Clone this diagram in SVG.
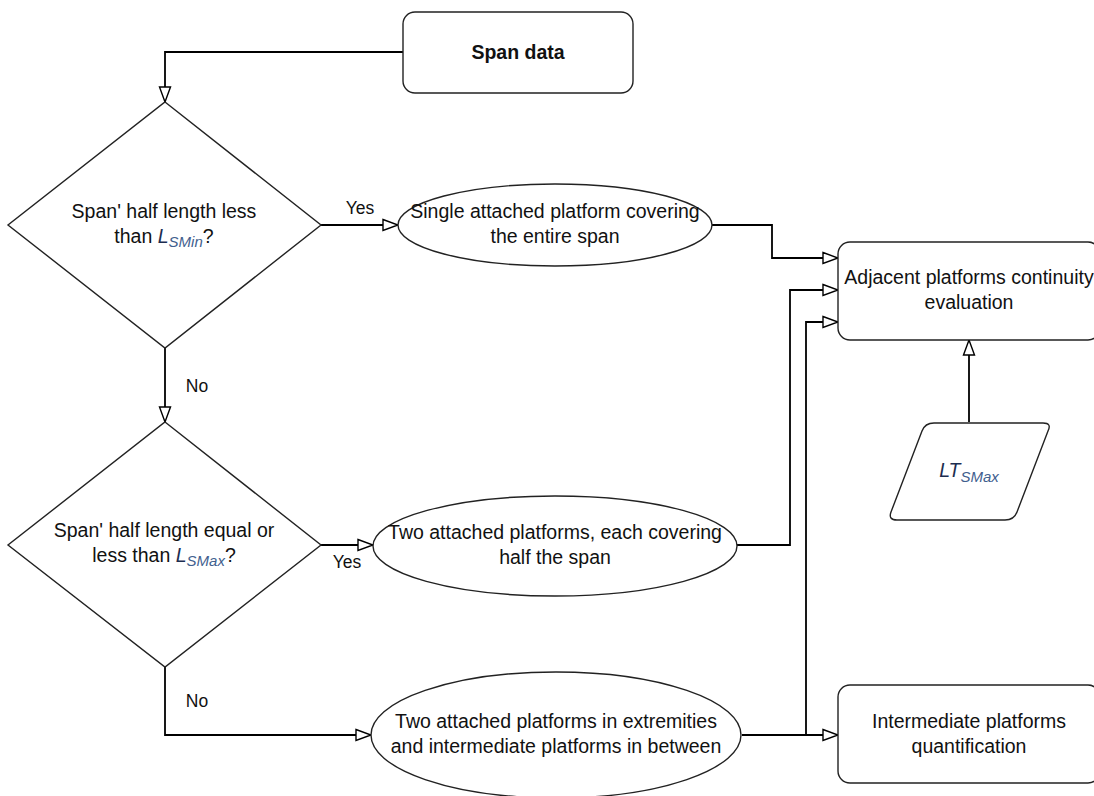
<svg xmlns="http://www.w3.org/2000/svg" width="1094" height="796" viewBox="0 0 1094 796">
<style>
.shape{fill:#fff;stroke:#222;stroke-width:1.4}
.edge{fill:none;stroke:#000;stroke-width:1.8}
text{font-family:"Liberation Sans",Arial,sans-serif;font-size:19.5px;fill:#111}
.c{text-anchor:middle}
.lbl{font-size:17.5px}
.it{font-style:italic;fill:#1c2d50}
.sub{font-style:italic;font-size:15px;fill:#41608e}
</style>
<defs>
<marker id="arr" markerUnits="userSpaceOnUse" markerWidth="18" markerHeight="14" refX="16" refY="7" orient="auto">
<path d="M1,1.5 L16,7 L1,12.5 Z" fill="#fff" stroke="#000" stroke-width="1.4"/>
</marker>
</defs>
<rect width="1094" height="796" fill="#fff"/>
<g id="connectors">
<path class="edge" d="M403,52 H165 V102" marker-end="url(#arr)"/>
<path class="edge" d="M321,225 H398" marker-end="url(#arr)"/>
<path class="edge" d="M165,348 V422" marker-end="url(#arr)"/>
<path class="edge" d="M321,545 H373" marker-end="url(#arr)"/>
<path class="edge" d="M165,667 V735 H371" marker-end="url(#arr)"/>
<path class="edge" d="M712,225 H772 V258 H838" marker-end="url(#arr)"/>
<path class="edge" d="M737,545 H790 V290 H838" marker-end="url(#arr)"/>
<path class="edge" d="M742,735 H838" marker-end="url(#arr)"/>
<path class="edge" d="M806,735 V322 H838" marker-end="url(#arr)"/>
<path class="edge" d="M969,422 V340" marker-end="url(#arr)"/>
<text class="lbl" x="360" y="214" text-anchor="middle">Yes</text>
<text class="lbl" x="197" y="392" text-anchor="middle">No</text>
<text class="lbl" x="347" y="568" text-anchor="middle">Yes</text>
<text class="lbl" x="197" y="707" text-anchor="middle">No</text>
</g>
<g id="span-data">
<rect class="shape" x="403" y="12" width="230" height="81" rx="12"/>
<text class="c" x="518" y="59" font-weight="bold">Span data</text>
</g>
<g id="decision-1">
<path class="shape" d="M165,102 L321,225 L165,348 L8,225 Z"/>
<text class="c" x="164" y="218">Span' half length less</text>
<text class="c" x="164" y="243">than <tspan class="it">L</tspan><tspan class="sub" dy="4">SMin</tspan><tspan dy="-4">?</tspan></text>
</g>
<g id="single-platform">
<ellipse class="shape" cx="555" cy="225" rx="157" ry="41"/>
<text class="c" x="555" y="218">Single attached platform covering</text>
<text class="c" x="555" y="243">the entire span</text>
</g>
<g id="decision-2">
<path class="shape" d="M165,422 L321,545 L165,667 L8,545 Z"/>
<text class="c" x="164" y="537">Span' half length equal or</text>
<text class="c" x="164" y="562">less than <tspan class="it">L</tspan><tspan class="sub" dy="4">SMax</tspan><tspan dy="-4">?</tspan></text>
</g>
<g id="two-platforms">
<ellipse class="shape" cx="555" cy="546" rx="182" ry="50"/>
<text class="c" x="555" y="539">Two attached platforms, each covering</text>
<text class="c" x="555" y="564">half the span</text>
</g>
<g id="extremities-platforms">
<ellipse class="shape" cx="556" cy="735" rx="185" ry="63"/>
<text class="c" x="556" y="728">Two attached platforms in extremities</text>
<text class="c" x="556" y="753">and intermediate platforms in between</text>
</g>
<g id="continuity">
<rect class="shape" x="838" y="242" width="262" height="98" rx="12"/>
<text class="c" x="969" y="284">Adjacent platforms continuity</text>
<text class="c" x="969" y="309">evaluation</text>
</g>
<g id="lt-smax">
<path class="shape" d="M934,423 H1043 Q1052,423 1048,431 L1017,512 Q1014,520 1005,520 H897 Q888,520 891,512 L922,431 Q925,423 934,423 Z"/>
<text class="c" x="969" y="477"><tspan class="it">LT</tspan><tspan class="sub" dy="5">SMax</tspan></text>
</g>
<g id="intermediate">
<rect class="shape" x="838" y="685" width="262" height="98" rx="12"/>
<text class="c" x="969" y="728">Intermediate platforms</text>
<text class="c" x="969" y="753">quantification</text>
</g>
</svg>
